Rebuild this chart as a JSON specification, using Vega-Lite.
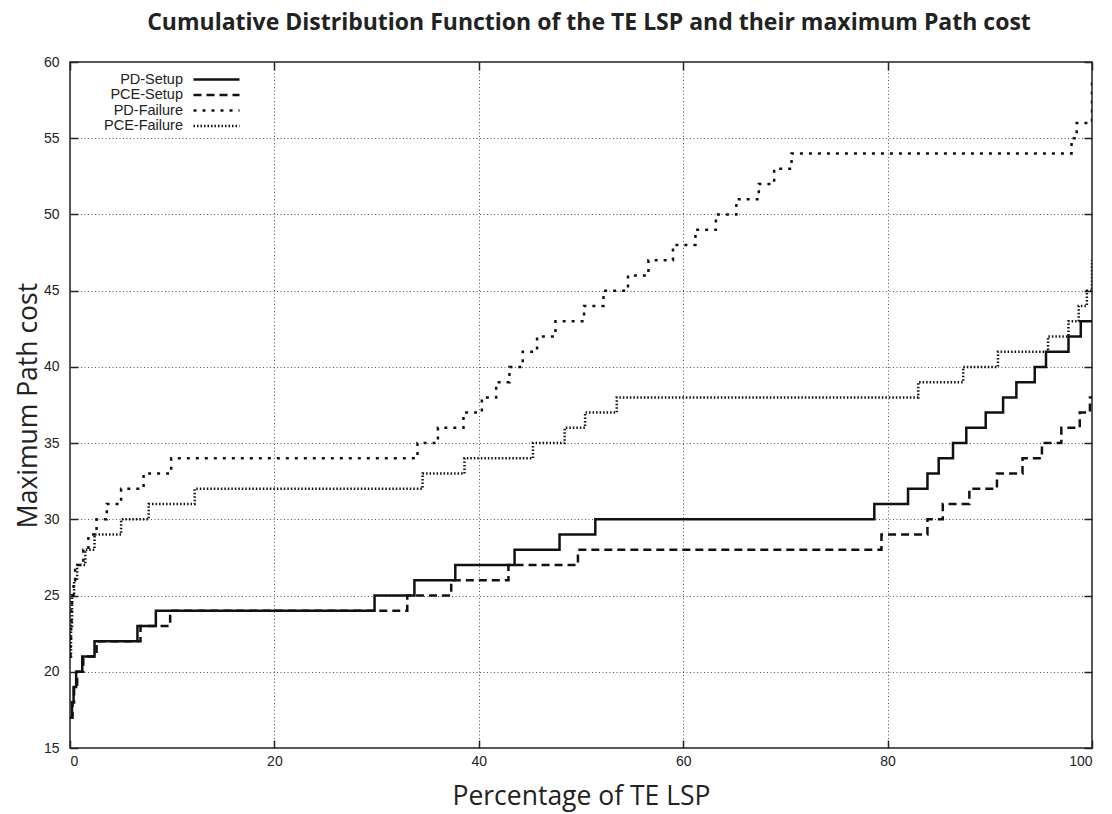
{
  "$schema": "https://vega.github.io/schema/vega-lite/v6.json",
  "width": 1022,
  "height": 686,
  "autosize": {"type": "none"},
  "padding": {"left": 70, "top": 62, "right": 20, "bottom": 66},
  "background": "white",
  "title": {
    "text": "Cumulative Distribution Function of the TE LSP and their maximum Path cost",
    "font": "Open Sans",
    "fontWeight": "bold",
    "fontSize": 23,
    "color": "#222222",
    "anchor": "middle",
    "offset": 20,
    "dx": 8
  },
  "config": {
    "view": {"stroke": "#222222", "strokeWidth": 1.5},
    "axis": {
      "domain": false,
      "gridColor": "#555555",
      "gridDash": [1, 2.5],
      "gridWidth": 1,
      "gridOpacity": 1,
      "tickColor": "#222222",
      "tickWidth": 1.5,
      "tickSize": -8,
      "labelFont": "Liberation Sans",
      "labelFontSize": 14,
      "labelColor": "#222222",
      "titleFont": "Open Sans",
      "titleFontWeight": "normal",
      "titleFontSize": 26.5,
      "titleColor": "#222222"
    }
  },
  "data": {
    "values": [
      {"series": "PD-Setup", "x": 0, "y": 17},
      {"series": "PD-Setup", "x": 0.2, "y": 18},
      {"series": "PD-Setup", "x": 0.35, "y": 19},
      {"series": "PD-Setup", "x": 0.6, "y": 20},
      {"series": "PD-Setup", "x": 1.2, "y": 21},
      {"series": "PD-Setup", "x": 2.4, "y": 22},
      {"series": "PD-Setup", "x": 6.6, "y": 23},
      {"series": "PD-Setup", "x": 8.4, "y": 24},
      {"series": "PD-Setup", "x": 29.8, "y": 25},
      {"series": "PD-Setup", "x": 33.7, "y": 26},
      {"series": "PD-Setup", "x": 37.7, "y": 27},
      {"series": "PD-Setup", "x": 43.5, "y": 28},
      {"series": "PD-Setup", "x": 47.9, "y": 29},
      {"series": "PD-Setup", "x": 51.4, "y": 30},
      {"series": "PD-Setup", "x": 78.7, "y": 31},
      {"series": "PD-Setup", "x": 82.0, "y": 32},
      {"series": "PD-Setup", "x": 83.9, "y": 33},
      {"series": "PD-Setup", "x": 85.0, "y": 34},
      {"series": "PD-Setup", "x": 86.4, "y": 35},
      {"series": "PD-Setup", "x": 87.7, "y": 36},
      {"series": "PD-Setup", "x": 89.6, "y": 37},
      {"series": "PD-Setup", "x": 91.3, "y": 38},
      {"series": "PD-Setup", "x": 92.6, "y": 39},
      {"series": "PD-Setup", "x": 94.4, "y": 40},
      {"series": "PD-Setup", "x": 95.5, "y": 41},
      {"series": "PD-Setup", "x": 97.7, "y": 42},
      {"series": "PD-Setup", "x": 98.9, "y": 43},
      {"series": "PD-Setup", "x": 100, "y": 43},

      {"series": "PCE-Setup", "x": 0, "y": 17},
      {"series": "PCE-Setup", "x": 0.25, "y": 18},
      {"series": "PCE-Setup", "x": 0.4, "y": 19},
      {"series": "PCE-Setup", "x": 0.7, "y": 20},
      {"series": "PCE-Setup", "x": 1.3, "y": 21},
      {"series": "PCE-Setup", "x": 2.6, "y": 22},
      {"series": "PCE-Setup", "x": 6.9, "y": 23},
      {"series": "PCE-Setup", "x": 9.8, "y": 24},
      {"series": "PCE-Setup", "x": 33.0, "y": 25},
      {"series": "PCE-Setup", "x": 37.3, "y": 26},
      {"series": "PCE-Setup", "x": 42.9, "y": 27},
      {"series": "PCE-Setup", "x": 49.7, "y": 28},
      {"series": "PCE-Setup", "x": 79.4, "y": 29},
      {"series": "PCE-Setup", "x": 83.9, "y": 30},
      {"series": "PCE-Setup", "x": 85.4, "y": 31},
      {"series": "PCE-Setup", "x": 88.0, "y": 32},
      {"series": "PCE-Setup", "x": 90.7, "y": 33},
      {"series": "PCE-Setup", "x": 93.2, "y": 34},
      {"series": "PCE-Setup", "x": 95.1, "y": 35},
      {"series": "PCE-Setup", "x": 97.0, "y": 36},
      {"series": "PCE-Setup", "x": 98.8, "y": 37},
      {"series": "PCE-Setup", "x": 99.8, "y": 38},
      {"series": "PCE-Setup", "x": 100, "y": 38},

      {"series": "PD-Failure", "x": 0, "y": 21},
      {"series": "PD-Failure", "x": 0.05, "y": 22},
      {"series": "PD-Failure", "x": 0.1, "y": 23},
      {"series": "PD-Failure", "x": 0.15, "y": 24},
      {"series": "PD-Failure", "x": 0.2, "y": 25},
      {"series": "PD-Failure", "x": 0.35, "y": 26},
      {"series": "PD-Failure", "x": 0.5, "y": 27},
      {"series": "PD-Failure", "x": 1.3, "y": 28},
      {"series": "PD-Failure", "x": 1.8, "y": 29},
      {"series": "PD-Failure", "x": 2.6, "y": 30},
      {"series": "PD-Failure", "x": 3.6, "y": 31},
      {"series": "PD-Failure", "x": 5.0, "y": 32},
      {"series": "PD-Failure", "x": 7.2, "y": 33},
      {"series": "PD-Failure", "x": 9.9, "y": 34},
      {"series": "PD-Failure", "x": 34.0, "y": 35},
      {"series": "PD-Failure", "x": 36.0, "y": 36},
      {"series": "PD-Failure", "x": 38.5, "y": 37},
      {"series": "PD-Failure", "x": 40.3, "y": 38},
      {"series": "PD-Failure", "x": 41.7, "y": 39},
      {"series": "PD-Failure", "x": 43.0, "y": 40},
      {"series": "PD-Failure", "x": 44.3, "y": 41},
      {"series": "PD-Failure", "x": 45.7, "y": 42},
      {"series": "PD-Failure", "x": 47.5, "y": 43},
      {"series": "PD-Failure", "x": 50.3, "y": 44},
      {"series": "PD-Failure", "x": 52.2, "y": 45},
      {"series": "PD-Failure", "x": 54.6, "y": 46},
      {"series": "PD-Failure", "x": 56.6, "y": 47},
      {"series": "PD-Failure", "x": 59.0, "y": 48},
      {"series": "PD-Failure", "x": 61.2, "y": 49},
      {"series": "PD-Failure", "x": 63.2, "y": 50},
      {"series": "PD-Failure", "x": 65.2, "y": 51},
      {"series": "PD-Failure", "x": 67.4, "y": 52},
      {"series": "PD-Failure", "x": 68.9, "y": 53},
      {"series": "PD-Failure", "x": 70.6, "y": 54},
      {"series": "PD-Failure", "x": 98.0, "y": 55},
      {"series": "PD-Failure", "x": 98.5, "y": 56},
      {"series": "PD-Failure", "x": 100, "y": 59},

      {"series": "PCE-Failure", "x": 0, "y": 21},
      {"series": "PCE-Failure", "x": 0.1, "y": 23},
      {"series": "PCE-Failure", "x": 0.2, "y": 25},
      {"series": "PCE-Failure", "x": 0.4, "y": 26},
      {"series": "PCE-Failure", "x": 0.7, "y": 27},
      {"series": "PCE-Failure", "x": 1.5, "y": 28},
      {"series": "PCE-Failure", "x": 2.4, "y": 29},
      {"series": "PCE-Failure", "x": 5.0, "y": 30},
      {"series": "PCE-Failure", "x": 7.7, "y": 31},
      {"series": "PCE-Failure", "x": 12.2, "y": 32},
      {"series": "PCE-Failure", "x": 34.5, "y": 33},
      {"series": "PCE-Failure", "x": 38.6, "y": 34},
      {"series": "PCE-Failure", "x": 45.3, "y": 35},
      {"series": "PCE-Failure", "x": 48.4, "y": 36},
      {"series": "PCE-Failure", "x": 50.4, "y": 37},
      {"series": "PCE-Failure", "x": 53.5, "y": 38},
      {"series": "PCE-Failure", "x": 83.0, "y": 39},
      {"series": "PCE-Failure", "x": 87.4, "y": 40},
      {"series": "PCE-Failure", "x": 90.8, "y": 41},
      {"series": "PCE-Failure", "x": 95.7, "y": 42},
      {"series": "PCE-Failure", "x": 97.7, "y": 43},
      {"series": "PCE-Failure", "x": 98.7, "y": 44},
      {"series": "PCE-Failure", "x": 99.5, "y": 45},
      {"series": "PCE-Failure", "x": 100, "y": 47}
    ]
  },
  "resolve": {"axis": {"x": "independent", "y": "independent"}},
  "layer": [
    {
      "mark": {"type": "line", "interpolate": "step-after", "opacity": 0},
      "encoding": {
        "x": {
          "field": "x",
          "type": "quantitative",
          "scale": {"domain": [0, 100], "nice": false, "zero": false},
          "axis": {"orient": "top", "values": [0, 20, 40, 60, 80, 100], "labels": false, "grid": false, "title": null}
        },
        "y": {
          "field": "y",
          "type": "quantitative",
          "scale": {"domain": [15, 60], "nice": false, "zero": false},
          "axis": {"orient": "right", "values": [15, 20, 25, 30, 35, 40, 45, 50, 55, 60], "labels": false, "grid": false, "title": null}
        },
        "detail": {"field": "series", "type": "nominal"}
      }
    },
    {
      "mark": {"type": "line", "interpolate": "step-after", "color": "#111111", "strokeWidth": 2.5, "clip": true},
      "encoding": {
        "x": {
          "field": "x",
          "type": "quantitative",
          "scale": {"domain": [0, 100], "nice": false, "zero": false},
          "axis": {"orient": "bottom", "values": [0, 20, 40, 60, 80, 100], "grid": true, "title": "Percentage of TE LSP", "labelPadding": 14, "titlePadding": 15}
        },
        "y": {
          "field": "y",
          "type": "quantitative",
          "scale": {"domain": [15, 60], "nice": false, "zero": false},
          "axis": {"orient": "left", "values": [15, 20, 25, 30, 35, 40, 45, 50, 55, 60], "grid": true, "title": "Maximum Path cost", "labelPadding": 19, "titlePadding": 1}
        },
        "strokeDash": {
          "field": "series",
          "type": "nominal",
          "scale": {
            "domain": ["PD-Setup", "PCE-Setup", "PD-Failure", "PCE-Failure"],
            "range": [[1, 0], [8, 5], [3, 6], [1.5, 2]]
          },
          "legend": {
            "title": null,
            "orient": "none",
            "legendX": 106,
            "legendY": 10,
            "padding": 0,
            "symbolType": "M1.6667,0H9.3333",
            "symbolSize": 144,
            "symbolStrokeWidth": 2.5,
            "symbolStrokeColor": "#111111",
            "labelAlign": "right",
            "labelOffset": -8,
            "labelFont": "Liberation Sans",
            "labelFontSize": 14.5,
            "labelColor": "#222222",
            "rowPadding": 0.5
          }
        },
        "order": {"field": "x", "type": "quantitative"}
      }
    }
  ]
}
